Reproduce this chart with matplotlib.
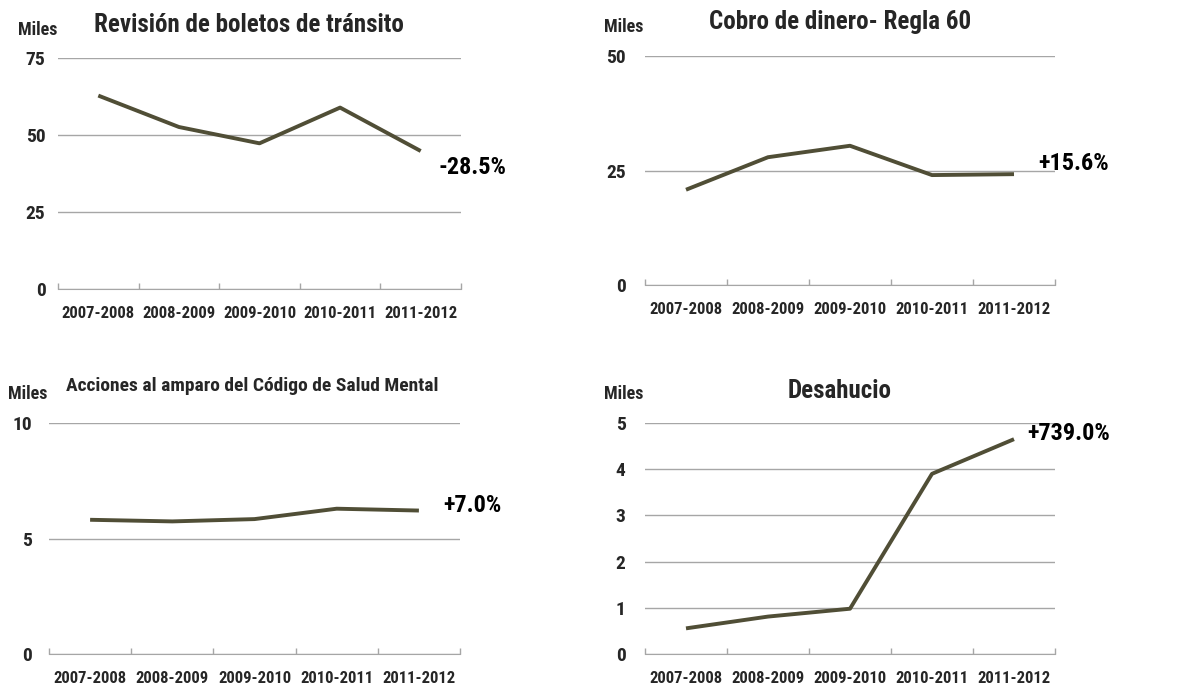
import matplotlib
matplotlib.use("Agg")
import matplotlib.pyplot as plt
from matplotlib import font_manager

# --- data (thousands) -------------------------------------------------------
years = ["2007-2008", "2008-2009", "2009-2010", "2010-2011", "2011-2012"]

boletos = [62.8, 52.6, 47.3, 58.9, 44.8]
regla60 = [20.8, 27.9, 30.4, 24.0, 24.2]
salud_mental = [5.81, 5.74, 5.84, 6.29, 6.21]
desahucio = [0.555, 0.81, 0.98, 3.90, 4.65]

titles = ["Revisión de boletos de tránsito", "Cobro de dinero- Regla 60",
          "Acciones al amparo del Código de Salud Mental", "Desahucio"]
changes = ["-28.5%", "+15.6%", "+7.0%", "+739.0%"]
yticks = [[0, 25, 50, 75], [0, 25, 50], [0, 5, 10], [0, 1, 2, 3, 4, 5]]


# pick a narrow sans (the original looks like Arial Narrow Bold)
def pick_font():
    bold = {(f.name) for f in font_manager.fontManager.ttflist
            if f.style == "normal" and isinstance(f.weight, int) and f.weight >= 700}
    for name in ["Liberation Sans Narrow", "Arial Narrow", "Roboto Condensed",
                 "PT Sans Narrow", "Archivo Narrow", "Open Sans Condensed",
                 "Asap Condensed", "Liberation Sans"]:
        if name in bold:
            return name
    return "DejaVu Sans"


FONT = pick_font()
plt.rcParams["font.family"] = [FONT, "DejaVu Sans"]
plt.rcParams["font.weight"] = "bold"

LINE = "#504E36"
TEXT = "#262626"
GRID = "#A6A6A6"

W, H = 1184, 688
fig = plt.figure(figsize=(W / 100, H / 100), dpi=100)


def px_axes(x0, x1, ytop, ybot):
    return fig.add_axes([x0 / W, (H - ybot) / H, (x1 - x0) / W, (ybot - ytop) / H])


# pixel boxes: left, right, top (max tick), bottom (zero)
boxes = [(58, 461, 58, 289), (645, 1055, 56, 285),
         (49, 460, 423, 654), (645, 1055, 423, 654)]
series = [boletos, regla60, salud_mental, desahucio]
ypads = [9, 14, 12, 14]
title_pos = [(249, 25, 18), (840, 22, 18), (252, 386, 14), (840, 391, 18)]
miles_pos = [(38, 30), (624, 27), (28, 394), (624, 394)]
label_pos = [(472, 168), (1074, 164), (472, 506), (1069, 434)]

for i, ax in enumerate(px_axes(*b) for b in boxes):
    x = range(len(years))
    ax.plot(x, series[i], color=LINE, lw=2.8, solid_capstyle="butt")
    ax.set_xlim(-0.5, len(years) - 0.5)
    ax.set_ylim(0, yticks[i][-1])
    ax.set_yticks(yticks[i])
    ax.set_yticklabels([str(v) for v in yticks[i]], fontsize=14,
                       fontweight="bold", color=TEXT)
    ax.set_xticks(list(x))
    ax.set_xticklabels(years, fontsize=12, fontweight="bold", color=TEXT)
    ax.tick_params(axis="x", which="major", length=0, pad=12)
    ax.set_xticks([k - 0.5 for k in range(len(years) + 1)], minor=True)
    ax.tick_params(axis="x", which="minor", direction="in", length=4,
                   color=GRID, width=1)
    ax.tick_params(axis="y", length=0, pad=ypads[i])
    for s in ["top", "right", "left"]:
        ax.spines[s].set_visible(False)
    ax.spines["bottom"].set_color(GRID)
    ax.yaxis.grid(True, color=GRID, lw=1)
    ax.set_axisbelow(True)

    tx, ty, ts = title_pos[i]
    fig.text(tx / W, 1 - ty / H, titles[i], ha="center", va="center",
             fontsize=ts, fontweight="bold", color=TEXT)
    mx, my = miles_pos[i]
    fig.text(mx / W, 1 - my / H, "Miles", ha="center", va="center",
             fontsize=13, fontweight="bold", color=TEXT)
    lx, ly = label_pos[i]
    fig.text(lx / W, 1 - ly / H, changes[i], ha="center", va="center",
             fontsize=17.5, fontweight="bold", color="black")

fig.savefig("out.png", dpi=100)
